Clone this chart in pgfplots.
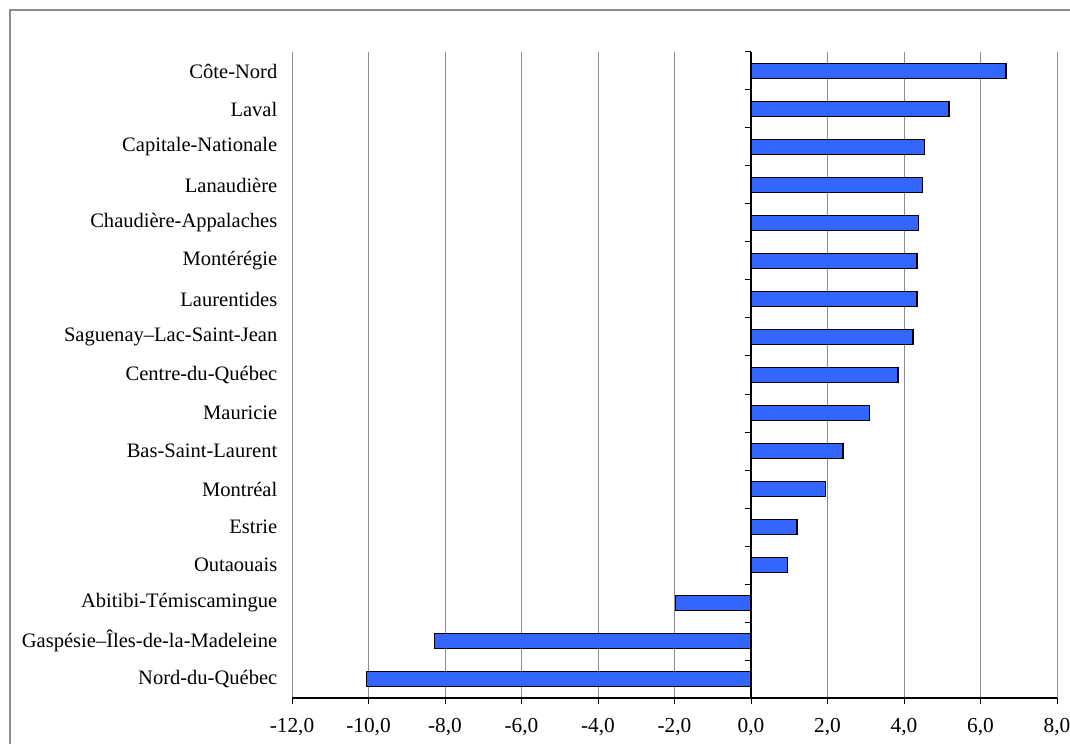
\documentclass[border=0pt]{standalone}
\usepackage{pgfplots}
\pgfplotsset{compat=1.18}
\usepackage{fontspec}
\setmainfont{Liberation Serif}
\definecolor{barblue}{HTML}{3366FF}
\definecolor{framegray}{HTML}{8C8C8C}
\begin{document}
\begin{tikzpicture}
% page = 1070 x 743 px, 1 px = 0.75pt
\path[use as bounding box] (0pt,0pt) rectangle (802.5pt,557.25pt);
\draw[framegray, line width=1.9pt] (7.5pt,-30pt) -- (7.5pt,549.75pt) -- (840pt,549.75pt);
\begin{axis}[
    at={(219pt,33.75pt)}, anchor=south west,
    scale only axis, width=573.75pt, height=484.5pt,
    xbar, bar width=0.4, bar shift=0pt,
    xmin=-12, xmax=8, ymin=-0.5, ymax=16.5,
    xtick={-12,-10,...,8},
    axis x line*=bottom, axis y line*=left,
    y axis line style={draw=none},
    x axis line style={black, line width=0.9pt, -},
    tick align=outside, major tick length=4.5pt,
    xtick style={black, line width=0.75pt},
    ytick style={draw=none},
    xmajorgrids, major grid style={framegray, line width=0.75pt},
    extra x ticks={0}, extra x tick labels={},
    extra x tick style={major grid style={black, line width=1pt}},
    ytick={0,...,16},
    yticklabels={Nord-du-Québec, Gaspésie–Îles-de-la-Madeleine, Abitibi-Témiscamingue, Outaouais, Estrie, Montréal, Bas-Saint-Laurent, Mauricie, Centre-du-Québec, Saguenay–Lac-Saint-Jean, Laurentides, Montérégie, Chaudière-Appalaches, Lanaudière, Capitale-Nationale, Laval, Côte-Nord},
    yticklabel style={font=\fontsize{15.4}{18}\selectfont, xshift=-3pt},
    xticklabel style={font=\fontsize{16}{18}\selectfont, yshift=-7pt},
    /pgf/number format/.cd, fixed, fixed zerofill, precision=1, use comma, assume math mode=true,
]
\addplot[fill=barblue, draw=black, line width=1.1pt] coordinates {
    (-10.05,0) (-8.28,1) (-1.98,2) (0.96,3) (1.20,4) (1.95,5) (2.41,6) (3.10,7)
    (3.84,8) (4.23,9) (4.34,10) (4.34,11) (4.38,12) (4.49,13) (4.54,14) (5.18,15) (6.67,16)
};
\pgfplotsinvokeforeach{-0.5,0.5,...,16.5}{
    \draw[black, line width=0.75pt] (axis cs:0,#1) -- ++(-4.5pt,0pt);
}
\end{axis}
\end{tikzpicture}
\end{document}
